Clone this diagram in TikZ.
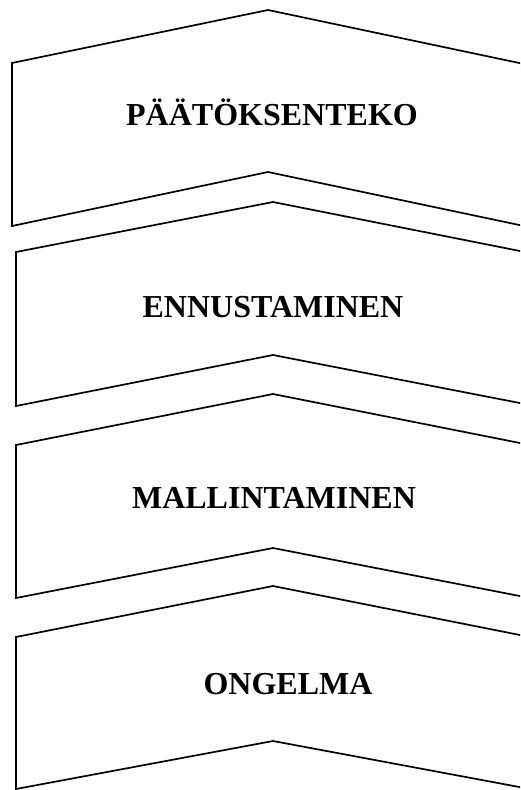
\documentclass[tikz,border=0pt]{standalone}
\usepackage{fontspec}
\setmainfont{Liberation Serif}

\begin{document}
\begin{tikzpicture}[x=1pt, y=-1pt,
        chevron/.style={draw=black, line width=1.7pt, line join=miter, fill=white},
        steplabel/.style={anchor=base, font=\fontsize{32}{38}\selectfont\bfseries}]
        \useasboundingbox (0,0) rectangle (520,790);
        \clip (0,0) rectangle (520,790);

        % Top chevron
        \draw[chevron] (12,63) -- (268,10) -- (524,64) -- (524,226) -- (268,172) -- (12,226) -- cycle;
        \node[steplabel] (paatos) at (272,125) {PÄÄTÖKSENTEKO};

        % Second chevron
        \draw[chevron] (16,252) -- (273,202) -- (530,253) -- (530,405) -- (273,355) -- (16,406) -- cycle;
        \node[steplabel] (ennuste) at (273,317) {ENNUSTAMINEN};

        % Third chevron
        \draw[chevron] (16,445) -- (273,394) -- (530,445) -- (530,598) -- (273,548) -- (16,598) -- cycle;
        \node[steplabel] (malli) at (274,508) {MALLINTAMINEN};

        % Bottom chevron
        \draw[chevron] (16,637) -- (273,586) -- (530,637) -- (530,789) -- (273,741) -- (16,789) -- cycle;
        \node[steplabel] (ongelma) at (288,694) {ONGELMA};
    \end{tikzpicture}
\end{document}
